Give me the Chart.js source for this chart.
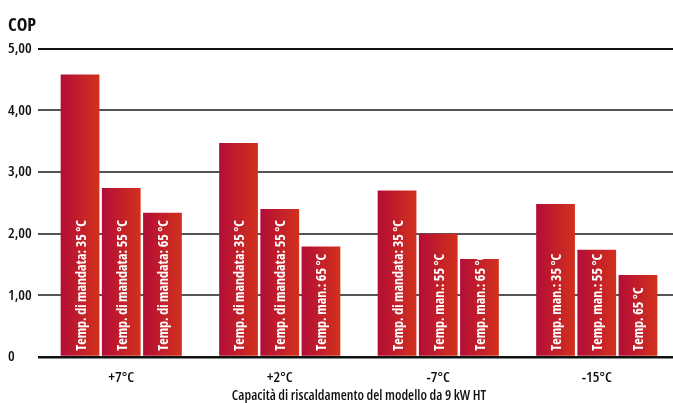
<!DOCTYPE html>
<html>
<head>
<meta charset="utf-8">
<script src="https://cdn.jsdelivr.net/npm/chart.js@4"></script>
<style>
  html, body { margin: 0; padding: 0; background: #fff; overflow: hidden; }
  #wrap { width: 676px; height: 403px; }
</style>
</head>
<body>
<div id="wrap"><canvas id="c"></canvas></div>
<script>
// dati
const categories = ['+7°C', '+2°C', '-7°C', '-15°C'];
const cop35 = [4.58, 3.47, 2.70, 2.48];
const cop55 = [2.74, 2.40, 2.00, 1.74];
const cop65 = [2.34, 1.79, 1.59, 1.33];

const labels35 = ['Temp. di mandata: 35 °C', 'Temp. di mandata: 35 °C', 'Temp. di mandata: 35 °C', 'Temp. man.: 35 °C'];
const labels55 = ['Temp. di mandata: 55 °C', 'Temp. di mandata: 55 °C', 'Temp. man.: 55 °C', 'Temp. man.: 55 °C'];
const labels65 = ['Temp. di mandata: 65 °C', 'Temp. man.: 65 °C', 'Temp. man.: 65 °C', 'Temp. 65 °C'];

// Open Sans in versione condensed (stretch nel font shorthand)
const FONT = '"Open Sans", sans-serif';
const CAT_PCT = 0.78;
const BAR_PCT = 0.94;

Chart.defaults.font.family = FONT;
Chart.defaults.color = '#111';

// gradiente orizzontale per ogni barra, calcolato dalla scala x
function barGradient(ctx) {
  const chart = ctx.chart;
  const area = chart.chartArea;
  const xs = chart.scales.x;
  if (!area || !xs) return '#c01f2c';
  const catW = area.width / categories.length;
  const slot = catW * CAT_PCT / 3;
  const center = xs.getPixelForValue(ctx.dataIndex) + (ctx.datasetIndex - 1) * slot;
  const half = slot * BAR_PCT / 2;
  const g = chart.ctx.createLinearGradient(center - half, 0, center + half, 0);
  g.addColorStop(0, '#b30d36');
  g.addColorStop(1, '#d2311d');
  return g;
}

// testo verticale dentro le barre
const barText = {
  id: 'barText',
  afterDatasetsDraw(chart) {
    const ctx = chart.ctx;
    chart.data.datasets.forEach((ds, di) => {
      const meta = chart.getDatasetMeta(di);
      meta.data.forEach((bar, i) => {
        ctx.save();
        ctx.translate(bar.x + 1.5, bar.base - 5);
        ctx.rotate(-Math.PI / 2);
        ctx.font = 'bold condensed 14px ' + FONT;
        ctx.fillStyle = '#fff';
        ctx.textAlign = 'left';
        ctx.textBaseline = 'middle';
        ctx.fillText(ds.texts[i], 0, 0);
        ctx.restore();
      });
    });
  }
};

function mkSet(values, texts) {
  return {
    data: values,
    texts: texts,
    backgroundColor: barGradient,
    borderWidth: 0,
    categoryPercentage: CAT_PCT,
    barPercentage: BAR_PCT
  };
}

new Chart(document.getElementById('c'), {
  type: 'bar',
  data: {
    labels: categories,
    datasets: [mkSet(cop35, labels35), mkSet(cop55, labels55), mkSet(cop65, labels65)]
  },
  options: {
    responsive: true,
    maintainAspectRatio: false,
    animation: false,
    layout: { padding: { left: 8, right: 0, top: 0, bottom: 0 } },
    plugins: {
      legend: { display: false },
      tooltip: { enabled: false },
      title: {
        display: true,
        text: 'COP',
        align: 'start',
        color: '#111',
        font: { size: 18, weight: 'bold condensed' },
        padding: { top: 15, bottom: 12 }
      }
    },
    scales: {
      x: {
        grid: { display: false, drawTicks: false },
        border: { display: false },
        ticks: { color: '#111', font: { size: 15, weight: '600 condensed' }, padding: 12 },
        title: {
          display: true,
          text: 'Capacità di riscaldamento del modello da 9 kW HT',
          color: '#111',
          font: { size: 14, weight: '600 condensed', lineHeight: 1 },
          padding: { top: 0, bottom: 0 }
        },
        afterFit: s => { s.height = 46; }
      },
      y: {
        min: 0,
        max: 5,
        ticks: {
          stepSize: 1,
          crossAlign: 'far',
          padding: 4,
          color: '#111',
          font: { size: 15, weight: '600 condensed' },
          callback: v => v === 0 ? '0' : v.toFixed(2).replace('.', ',')
        },
        grid: {
          color: c => (c.tick.value === 0 || c.tick.value === 5) ? '#111' : '#555',
          lineWidth: c => c.tick.value === 0 ? 2.5 : 2,
          tickLength: 4
        },
        border: { display: false },
        afterFit: s => { s.width = 34; }
      }
    }
  },
  plugins: [barText]
});
</script>
</body>
</html>
